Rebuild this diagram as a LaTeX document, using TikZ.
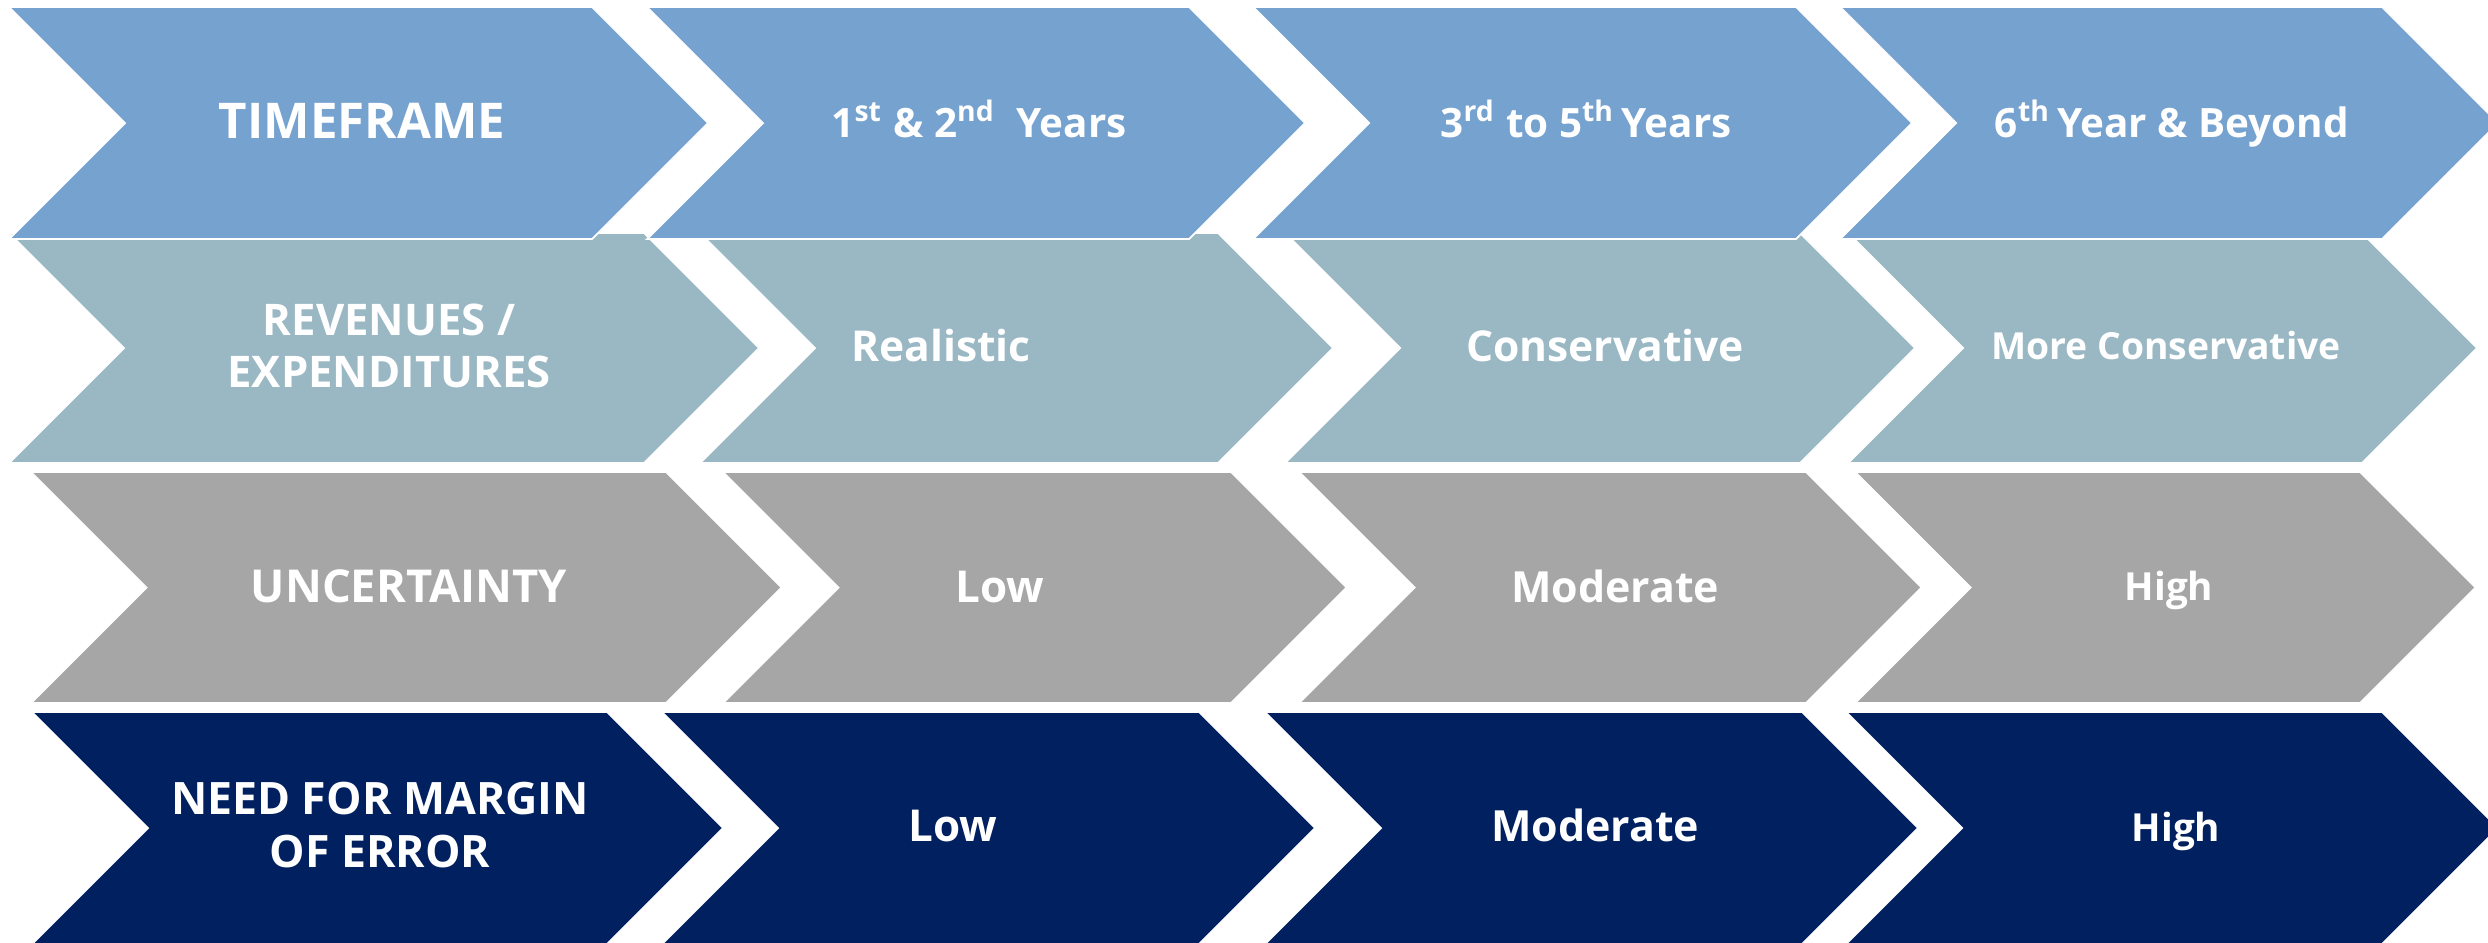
\documentclass[tikz,border=0pt]{standalone}
\usepackage{fontspec}
\setmainfont{Open Sans}
\definecolor{rowtime}{HTML}{76A2D0}
\definecolor{rowrev}{HTML}{99B8C4}
\definecolor{rowunc}{HTML}{A6A6A6}
\definecolor{rowerr}{HTML}{002060}

% chevron band: fill colour, left x, right x, top y, bottom y (pixel units, y down)
\newcommand\chevshape[5]{%
  \pgfmathsetmacro\chevmid{(#4+#5)/2}%
  \pgfmathsetmacro\chevd{(#5-#4)/2}%
  \path[band, fill=#1] (#2,#4) -- (#3,#4) -- ({#3+\chevd},\chevmid)
    -- (#3,#5) -- (#2,#5) -- ({#2+\chevd},\chevmid) -- cycle;}

\begin{document}
\begin{tikzpicture}[x=0.01cm, y=-0.01cm,
  band/.style={draw=white, line width=0.5pt, line join=miter},
  lbl/.style={text=white, inner sep=0pt, align=center,
    font=\bfseries\fontsize{#1}{15}\selectfont}]
\clip (0,0) rectangle (2488,942);
\fill[white] (0,0) rectangle (2488,942);

% row 4: need for margin of error
\chevshape{rowerr}{32}{607}{712}{944}
\chevshape{rowerr}{662}{1199}{712}{944}
\chevshape{rowerr}{1265}{1802}{712}{944}
\chevshape{rowerr}{1846}{2382}{712}{944}
% row 3: uncertainty
\chevshape{rowunc}{31}{666}{472}{703}
\chevshape{rowunc}{723}{1231}{472}{703}
\chevshape{rowunc}{1299}{1806}{472}{703}
\chevshape{rowunc}{1855}{2360}{472}{703}
% row 2: revenues / expenditures
\chevshape{rowrev}{9}{644}{233}{463}
\chevshape{rowrev}{700}{1218}{233}{463}
\chevshape{rowrev}{1285}{1800}{233}{463}
\chevshape{rowrev}{1848}{2362}{233}{463}
% row 1: timeframe
\chevshape{rowtime}{9}{592}{7}{239}
\chevshape{rowtime}{647}{1189}{7}{239}
\chevshape{rowtime}{1253}{1796}{7}{239}
\chevshape{rowtime}{1840}{2382}{7}{239}

% labels
\node[lbl=14, anchor=base] (tf) at (362,138) {TIMEFRAME};
\node[lbl=11.5, anchor=base] (yA) at (979,137) {1\textsuperscript{st} \& 2\textsuperscript{nd}\ \ Years};
\node[lbl=11.5, anchor=base] (yB) at (1586,137) {3\textsuperscript{rd} to 5\textsuperscript{th}\,Years};
\node[lbl=11.5, anchor=base] (yC) at (2172,137) {6\textsuperscript{th}\,Year \& Beyond};

\node[lbl=12.4] (rev) at (389,346) {REVENUES /\\EXPENDITURES};
\node[lbl=12.1, anchor=base] (rA) at (941,361) {Realistic};
\node[lbl=12.1, anchor=base] (rB) at (1605,361) {Conservative};
\node[lbl=10.6, anchor=base] (rC) at (2166,359) {More Conservative};

\node[lbl=12.9, anchor=base] (unc) at (409,602) {UNCERTAINTY};
\node[lbl=12.5, anchor=base] (uA) at (1000,602) {Low};
\node[lbl=12.2, anchor=base] (uB) at (1615,602) {Moderate};
\node[lbl=11, anchor=base] (uC) at (2169,600) {High};

\node[lbl=12.7] (err) at (380,825) {NEED FOR MARGIN\\OF ERROR};
\node[lbl=12.5, anchor=base] (eA) at (953,841) {Low};
\node[lbl=12.2, anchor=base] (eB) at (1595,841) {Moderate};
\node[lbl=11, anchor=base] (eC) at (2176,841) {High};
\end{tikzpicture}
\end{document}
